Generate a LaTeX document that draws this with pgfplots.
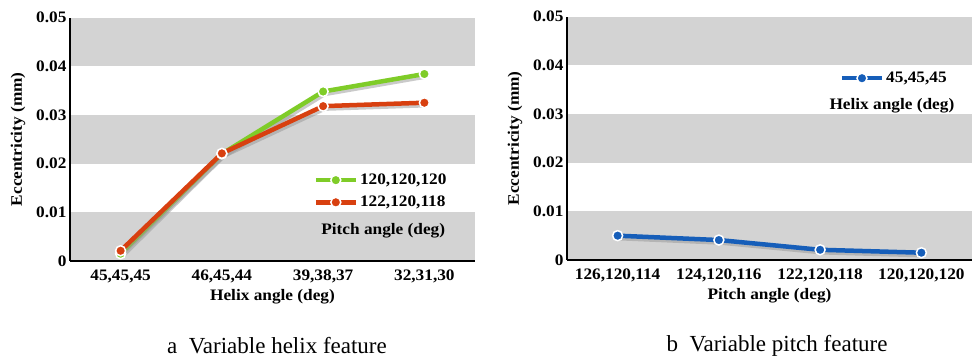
\documentclass[border=0pt]{standalone}
\usepackage{fontspec}
\setmainfont[FakeStretch=1.08]{Liberation Serif}
\newfontfamily\capfont{Liberation Serif}
\usepackage{pgfplots}
\pgfplotsset{compat=1.18}
\definecolor{stripe}{RGB}{211,211,211}
\definecolor{cgreen}{RGB}{127,204,40}
\definecolor{cred}{RGB}{216,64,16}
\definecolor{cblue}{RGB}{22,94,185}
\definecolor{shadowc}{RGB}{150,150,150}
\newcommand{\bfsz}{\fontsize{16}{18}\selectfont\bfseries}
\pgfplotsset{
 mystyle/.style={
  scale only axis, width=405pt, anchor=south west,
  xmin=-0.5,xmax=3.5,ymin=0,ymax=0.05,
  xtick={0,1,2,3}, ytick={0,0.01,0.02,0.03,0.04,0.05},
  yticklabels={0,0.01,0.02,0.03,0.04,0.05},
  scaled y ticks=false,
  major tick length=0pt,
  axis x line=bottom, axis y line=left,
  axis line style={-, line width=1.5pt, black},
  axis on top,
  tick label style={font=\bfsz},
  xticklabel style={yshift=-5pt},
  every axis y label/.style={at={(axis description cs:-0.128,0.5)}, rotate=90, anchor=center, font=\bfsz},
  every axis x label/.style={at={(axis description cs:0.5,-0.148)}, anchor=center, font=\bfsz},
  ylabel={Eccentricity (mm)},
  clip=false,
  legend cell align=left,
  legend style={draw=none, fill=none, inner sep=0pt, font=\bfsz, row sep=6pt,
    /tikz/every even column/.append style={column sep=0pt}},
  legend image code/.code={
    \draw[##1, mark=none] (0pt,0pt) -- (40pt,0pt);
    \draw[##1, only marks] plot coordinates {(20pt,0pt)};
  },
 },
 series/.style={color=#1, line width=4.5pt, mark=*, mark size=5pt, mark options={draw=white, line width=1.5pt, fill=#1}},
 shade/.style={color=shadowc, line width=4.5pt, xshift=1.5pt, yshift=-2.5pt, forget plot, opacity=0.5},
}
\begin{document}
\begin{tikzpicture}
\useasboundingbox (0pt,0pt) rectangle (978pt,360pt);
% ---------------- left
\begin{axis}[mystyle, at={(70pt,99pt)}, height=243.5pt,
  xticklabels={{45,45,45},{46,45,44},{39,38,37},{32,31,30}},
  xlabel={Helix angle (deg)},
  legend style={at={(0.935,0.366)}, anchor=north east}]
\fill[stripe] (axis cs:-0.5,0) rectangle (axis cs:3.5,0.01);
\fill[stripe] (axis cs:-0.5,0.02) rectangle (axis cs:3.5,0.03);
\fill[stripe] (axis cs:-0.5,0.04) rectangle (axis cs:3.5,0.05);
\addplot[shade] coordinates {(0,0.0015) (1,0.0220) (2,0.0348) (3,0.0384)};
\addplot[series=cgreen] coordinates {(0,0.0015) (1,0.0220) (2,0.0348) (3,0.0384)};
\addlegendentry{120,120,120}
\addplot[shade] coordinates {(0,0.0021) (1,0.0221) (2,0.0318) (3,0.0325)};
\addplot[series=cred] coordinates {(0,0.0021) (1,0.0221) (2,0.0318) (3,0.0325)};
\addlegendentry{122,120,118}
\node[anchor=east, font=\bfsz] at (axis description cs:0.935,0.123) {Pitch angle (deg)};
\end{axis}
% ---------------- right
\begin{axis}[mystyle, at={(567pt,100pt)}, height=243.3pt,
  xticklabels={{126,120,114},{124,120,116},{122,120,118},{120,120,120}},
  xlabel={Pitch angle (deg)},
  legend style={at={(0.943,0.781)}, anchor=north east}]
\fill[stripe] (axis cs:-0.5,0) rectangle (axis cs:3.5,0.01);
\fill[stripe] (axis cs:-0.5,0.02) rectangle (axis cs:3.5,0.03);
\fill[stripe] (axis cs:-0.5,0.04) rectangle (axis cs:3.5,0.05);
\addplot[shade] coordinates {(0,0.0050) (1,0.0041) (2,0.0021) (3,0.0015)};
\addplot[series=cblue] coordinates {(0,0.0050) (1,0.0041) (2,0.0021) (3,0.0015)};
\addlegendentry{45,45,45}
\node[anchor=east, font=\bfsz] at (axis description cs:0.965,0.633) {Helix angle (deg)};
\end{axis}
\node[font=\capfont\fontsize{23}{26}\selectfont] at (277pt,14pt) {a~~Variable helix feature};
\node[font=\capfont\fontsize{23}{26}\selectfont] at (777pt,14pt) {b~~Variable pitch feature};
\end{tikzpicture}
\end{document}
